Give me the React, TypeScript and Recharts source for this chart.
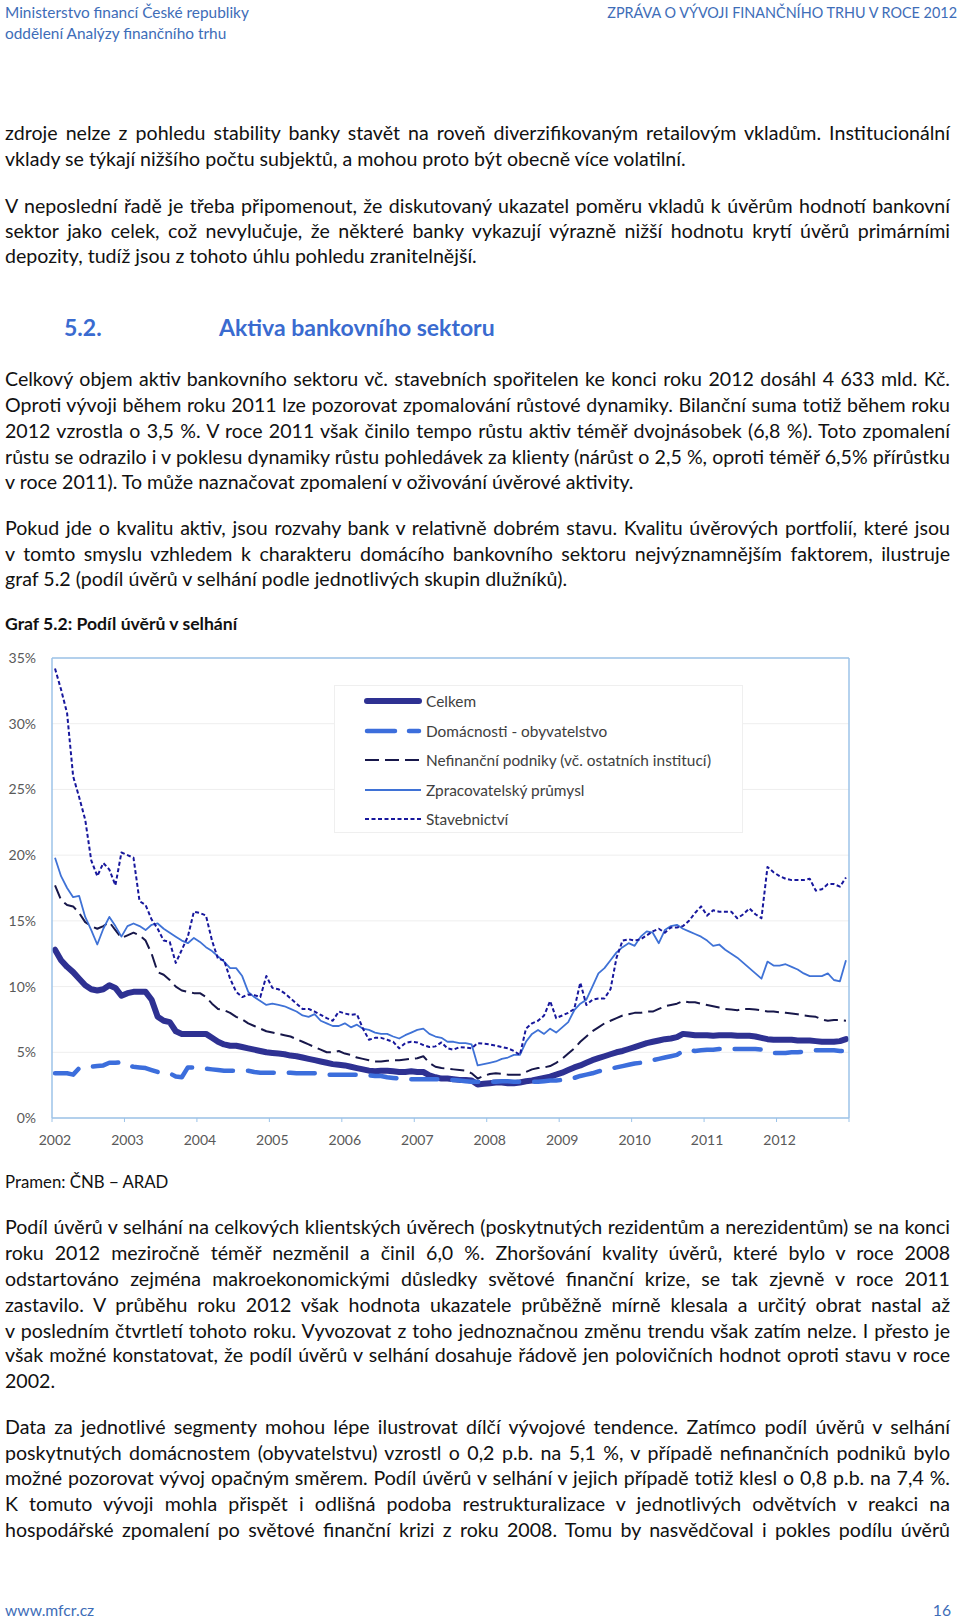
import React, { useLayoutEffect, useRef, useState } from "react";
import { LineChart, Line, XAxis, YAxis, CartesianGrid, ReferenceLine, Legend } from "recharts";

const FONT = "Lato, 'Noto Sans', sans-serif";
const AXIS = "#9CC3E8";
const TICK_TEXT = "#595959";

// roky na ose x (měsíční data 2002-01 .. 2012-12)
const years = ["2002", "2003", "2004", "2005", "2006", "2007", "2008", "2009", "2010", "2011", "2012"];
const yTicks = [0, 5, 10, 15, 20, 25, 30, 35];

const celkem = [
  12.8, 12.0, 11.5, 11.1, 10.6, 10.1, 9.8, 9.7, 9.8, 10.1, 9.9, 9.3,
  9.5, 9.6, 9.6, 9.6, 9.0, 7.7, 7.4, 7.3, 6.6, 6.4, 6.4, 6.4,
  6.4, 6.4, 6.1, 5.8, 5.6, 5.5, 5.5, 5.4, 5.3, 5.2, 5.1, 5.0,
  4.95, 4.9, 4.85, 4.75, 4.7, 4.6, 4.5, 4.4, 4.3, 4.2, 4.1, 4.05,
  4.0, 3.9, 3.8, 3.7, 3.6, 3.55, 3.6, 3.6, 3.55, 3.5, 3.5, 3.55,
  3.5, 3.5, 3.25, 3.1, 3.0, 3.0, 2.95, 2.9, 2.9, 2.85, 2.55, 2.6,
  2.65, 2.7, 2.7, 2.65, 2.65, 2.7, 2.8, 2.85, 2.95, 3.05, 3.15, 3.3,
  3.45, 3.65, 3.85, 4.0, 4.2, 4.4, 4.55, 4.7, 4.85, 5.0, 5.1, 5.25,
  5.4, 5.55, 5.7, 5.8, 5.9, 6.0, 6.05, 6.15, 6.4, 6.35, 6.3, 6.3,
  6.3, 6.25, 6.3, 6.3, 6.3, 6.25, 6.25, 6.25, 6.2, 6.1, 6.0, 5.95,
  5.95, 5.95, 5.95, 5.9, 5.9, 5.9, 5.85, 5.8, 5.8, 5.8, 5.85, 6.0,
];

const domacnosti = [
  3.4, 3.4, 3.4, 3.3, 3.8, 3.85, 3.9, 3.95, 4.0, 4.2, 4.2, 4.25,
  4.0, 3.9, 3.85, 3.8, 3.65, 3.5, 3.45, 3.4, 3.15, 3.1, 3.85, 3.85,
  3.8, 3.75, 3.7, 3.65, 3.6, 3.6, 3.6, 3.6, 3.6, 3.5, 3.45, 3.45,
  3.45, 3.45, 3.45, 3.45, 3.4, 3.4, 3.4, 3.4, 3.35, 3.3, 3.3, 3.3,
  3.3, 3.3, 3.3, 3.3, 3.25, 3.2, 3.2, 3.1, 3.05, 3.0, 2.95, 2.95,
  2.95, 2.95, 2.95, 2.95, 2.95, 2.9, 2.9, 2.85, 2.8, 2.75, 2.75, 2.75,
  2.75, 2.75, 2.8, 2.8, 2.75, 2.75, 2.75, 2.75, 2.75, 2.8, 2.85, 2.85,
  2.9, 2.95, 3.05, 3.2, 3.3, 3.4, 3.55, 3.65, 3.75, 3.85, 3.95, 4.05,
  4.15, 4.2, 4.3, 4.4, 4.5, 4.6, 4.7, 4.8, 5.1, 5.2, 5.1, 5.15,
  5.2, 5.2, 5.25, 5.25, 5.25, 5.25, 5.25, 5.25, 5.25, 5.2, 5.15, 4.95,
  4.95, 4.95, 5.0, 5.0, 5.05, 5.1, 5.15, 5.15, 5.15, 5.15, 5.1, 5.1,
];

const nefinancni = [
  17.7, 16.6, 16.2, 16.1, 15.6, 14.9, 14.6, 14.4, 14.6, 14.9, 14.3, 13.7,
  13.9, 14.1, 13.9, 13.5, 12.5, 11.1, 10.9, 10.5, 10.0, 9.7, 9.6, 9.5,
  9.5, 9.2, 8.7, 8.3, 8.2, 8.0, 7.7, 7.5, 7.2, 7.0, 6.8, 6.6,
  6.5, 6.4, 6.3, 6.2, 6.0, 5.8, 5.6, 5.4, 5.2, 5.0, 5.0, 5.1,
  4.9, 4.8, 4.6, 4.5, 4.4, 4.3, 4.3, 4.35, 4.4, 4.4, 4.45, 4.5,
  4.55, 4.7, 4.2, 3.9, 3.8, 3.75, 3.7, 3.65, 3.6, 3.4, 3.0, 3.2,
  3.35, 3.4, 3.35, 3.3, 3.3, 3.3, 3.5, 3.7, 3.8, 3.85, 3.95, 4.2,
  4.5, 4.9, 5.3, 5.8, 6.2, 6.6, 6.9, 7.2, 7.4, 7.6, 7.8, 7.9,
  8.0, 8.0, 8.1, 8.1, 8.3, 8.5, 8.6, 8.7, 8.9, 8.8, 8.8, 8.7,
  8.6, 8.5, 8.4, 8.3, 8.25, 8.2, 8.3, 8.3, 8.25, 8.2, 8.1, 8.1,
  8.05, 8.0, 7.95, 7.9, 7.8, 7.75, 7.7, 7.5, 7.4, 7.45, 7.45, 7.4,
];

const zpracovatelsky = [
  19.8, 18.4, 17.5, 16.8, 16.9, 15.3, 14.3, 13.2, 14.4, 15.3, 14.6, 13.8,
  14.6, 14.8, 14.6, 14.3, 14.7, 14.8, 14.4, 14.1, 13.8, 13.5, 13.3, 13.7,
  13.4, 13.0, 12.7, 12.3, 11.9, 11.4, 11.4, 10.8, 9.6, 9.2, 8.9, 8.6,
  8.7, 8.6, 8.5, 8.3, 8.1, 7.8, 7.7, 7.9, 7.4, 7.2, 7.0, 7.0,
  7.2, 6.9, 7.1, 6.8, 6.7, 6.5, 6.4, 6.4, 6.2, 6.05, 6.3, 6.5,
  6.7, 6.8, 6.4, 6.2, 6.1, 5.8, 5.8, 5.7, 5.7, 5.6, 4.0, 4.1,
  4.2, 4.3, 4.5, 4.6, 4.8, 4.8, 5.8, 6.4, 6.7, 6.4, 6.8, 6.5,
  6.9, 7.3, 8.2, 8.7, 9.0, 10.0, 11.0, 11.4, 12.0, 12.6, 13.0, 13.3,
  13.1, 13.8, 14.2, 14.1, 13.3, 14.3, 14.6, 14.7, 14.4, 14.2, 14.0, 13.8,
  13.5, 13.1, 13.2, 12.8, 12.5, 12.2, 11.8, 11.4, 11.0, 10.6, 11.9, 11.6,
  11.6, 11.7, 11.5, 11.3, 11.0, 10.8, 10.8, 10.8, 11.0, 10.5, 10.4, 12.0,
];

const stavebnictvi = [
  34.2, 32.6, 30.8, 26.0, 24.4, 22.7, 19.6, 18.4, 19.4, 18.9, 17.7, 20.2,
  20.0, 19.8, 16.5, 16.2, 15.1, 14.4, 13.5, 13.4, 11.8, 12.8, 13.8, 15.7,
  15.6, 15.4, 13.5, 12.1, 12.0, 10.6, 9.6, 9.2, 9.4, 9.35, 9.2, 10.8,
  9.9, 9.8, 9.5, 9.1, 8.7, 8.3, 8.3, 8.1, 7.85, 7.6, 7.4, 8.1,
  7.95, 7.85, 7.9, 6.8, 5.95, 6.1, 6.1, 5.95, 5.8, 5.3, 5.7, 5.8,
  5.75, 5.55, 5.4, 5.45, 5.75, 5.3, 5.2, 5.4, 5.35, 5.3, 5.7, 5.65,
  5.6, 5.5, 5.4, 5.3, 5.1, 4.8, 6.8, 7.2, 7.4, 7.8, 8.9, 7.6,
  7.8, 8.0, 8.3, 10.3, 8.6, 9.0, 9.1, 9.1, 9.8, 12.2, 13.5, 13.6,
  13.5, 13.6, 13.9, 14.2, 14.4, 14.1, 14.5, 14.5, 14.6, 15.0, 15.6, 16.1,
  15.4, 15.8, 15.7, 15.7, 15.7, 15.2, 15.5, 15.95, 15.5, 15.2, 19.1, 18.7,
  18.4, 18.2, 18.1, 18.1, 18.1, 18.2, 17.3, 17.4, 17.8, 17.8, 17.6, 18.3,
];

const series = [
  { key: "celkem", name: "Celkem", color: "#2E3192", width: 6, dash: undefined as string | undefined, cap: "round" },
  { key: "domacnosti", name: "Domácnosti - obyvatelstvo", color: "#3C6EDC", width: 4.5, dash: "26 15", cap: "round" },
  { key: "nefinancni", name: "Nefinanční podniky (vč. ostatních institucí)", color: "#17174A", width: 2, dash: "14 6", cap: "butt" },
  { key: "zpracovatelsky", name: "Zpracovatelský průmysl", color: "#3F72D6", width: 1.8, dash: undefined, cap: "butt" },
  { key: "stavebnictvi", name: "Stavebnictví", color: "#17179C", width: 2, dash: "4 2.5", cap: "butt" },
];

// t = měsíc od ledna 2002 (střed měsíce)
const data = celkem.map((v, i) => ({
  t: i + 0.5,
  celkem: v,
  domacnosti: domacnosti[i],
  nefinancni: nefinancni[i],
  zpracovatelsky: zpracovatelsky[i],
  stavebnictvi: stavebnictvi[i],
}));

const xTicks = years.map((_, k) => k * 12).concat(132);

function YearTick({ x, y, payload }: any) {
  const label = years[Math.round(payload.value / 12)];
  if (!label) return null;
  return (
    <text x={x + 3} y={y} dy="0.35em" textAnchor="middle" fill={TICK_TEXT} fontSize={14} fontFamily={FONT}>
      {label}
    </text>
  );
}

function RightTick({ x, y, payload }: any) {
  return (
    <g>
      <line x1={x - 20} x2={x - 16} y1={y} y2={y} stroke={AXIS} strokeWidth={1} />
      <text x={x} y={y} dy="0.35em" textAnchor="start" fill={TICK_TEXT} fontSize={14} fontFamily={FONT}>
        {payload.value}%
      </text>
    </g>
  );
}

function LegendBox() {
  return (
    <div
      style={{
        width: 409,
        height: 148,
        border: "1px solid #EFEFEF",
        boxSizing: "border-box",
        position: "relative",
        background: "#fff",
        fontFamily: FONT,
        fontSize: 15.4,
        color: "#404040",
      }}
    >
      {series.map((s, k) => (
        <div
          key={s.key}
          style={{ position: "absolute", left: 28, top: 4 + k * 29.5, height: 22, display: "flex", alignItems: "center", whiteSpace: "nowrap" }}
        >
          <svg width={60} height={12}>
            <line
              x1={s.cap === "round" ? 4 : 2}
              x2={s.cap === "round" ? 56 : 58}
              y1={6}
              y2={6}
              stroke={s.color}
              strokeWidth={s.width}
              strokeDasharray={s.key === "domacnosti" ? "28 14" : s.dash}
              strokeLinecap={s.cap as any}
            />
          </svg>
          <span style={{ marginLeft: 3 }}>{s.name}</span>
        </div>
      ))}
    </div>
  );
}

function Chart() {
  return (
    <LineChart width={960} height={520} data={data} margin={{ top: 18, right: 0, bottom: 0, left: 0 }}>
      <CartesianGrid yAxisId="left" vertical={false} stroke="#EEEEEE" />
      <XAxis
        type="number"
        dataKey="t"
        domain={[0, 132]}
        ticks={xTicks}
        interval={0}
        height={42}
        axisLine={{ stroke: AXIS, strokeWidth: 1.5 }}
        tickLine={{ stroke: AXIS }}
        tickSize={4}
        tickMargin={18}
        tick={<YearTick />}
      />
      <YAxis
        yAxisId="left"
        domain={[0, 35]}
        ticks={yTicks}
        width={52}
        axisLine={{ stroke: AXIS, strokeWidth: 1.5 }}
        tickLine={false}
        tickSize={0}
        tickMargin={16}
        tickFormatter={(v) => `${v}%`}
        tick={{ fill: TICK_TEXT, fontSize: 14, fontFamily: FONT }}
      />
      <YAxis
        yAxisId="right"
        orientation="right"
        domain={[0, 35]}
        ticks={yTicks}
        width={111}
        axisLine={{ stroke: AXIS, strokeWidth: 1.5 }}
        tickLine={false}
        tickSize={0}
        tickMargin={16}
        tick={<RightTick />}
      />
      <ReferenceLine yAxisId="left" y={35} stroke={AXIS} strokeWidth={1.5} />
      {series.map((s) => (
        <Line
          key={s.key}
          yAxisId="left"
          type="linear"
          dataKey={s.key}
          name={s.name}
          stroke={s.color}
          strokeWidth={s.width}
          strokeDasharray={s.dash}
          strokeLinecap={s.cap as any}
          strokeLinejoin="round"
          dot={false}
          activeDot={false}
          isAnimationActive={false}
        />
      ))}
      <Legend
        layout="vertical"
        align="center"
        verticalAlign="middle"
        wrapperStyle={{ left: 334, top: 45, width: 409, height: 148 }}
        content={() => <LegendBox />}
      />
    </LineChart>
  );
}

// řádky textu stránky: [text, střed řádku y, zarovnat do bloku]
const topLines: [string, number, boolean][] = [
  ["zdroje nelze z pohledu stability banky stavět na roveň diverzifikovaným retailovým vkladům. Institucionální", 133.4, true],
  ["vklady se týkají nižšího počtu subjektů, a mohou proto být obecně více volatilní.", 159.2, false],
  ["V neposlední řadě je třeba připomenout, že diskutovaný ukazatel poměru vkladů k úvěrům hodnotí bankovní", 205.7, true],
  ["sektor jako celek, což nevylučuje, že některé banky vykazují výrazně nižší hodnotu krytí úvěrů primárními", 230.5, true],
  ["depozity, tudíž jsou z tohoto úhlu pohledu zranitelnější.", 256.4, false],
  ["Celkový objem aktiv bankovního sektoru vč. stavebních spořitelen ke konci roku 2012 dosáhl 4 633 mld. Kč.", 379.4, true],
  ["Oproti vývoji během roku 2011 lze pozorovat zpomalování růstové dynamiky. Bilanční suma totiž během roku", 405.2, true],
  ["2012 vzrostla o 3,5 %. V roce 2011 však činilo tempo růstu aktiv téměř dvojnásobek (6,8 %). Toto zpomalení", 431.1, true],
  ["růstu se odrazilo i v poklesu dynamiky růstu pohledávek za klienty (nárůst o 2,5 %, oproti téměř 6,5% přírůstku", 456.9, true],
  ["v roce 2011). To může naznačovat zpomalení v oživování úvěrové aktivity.", 481.7, false],
  ["Pokud jde o kvalitu aktiv, jsou rozvahy bank v relativně dobrém stavu. Kvalitu úvěrových portfolií, které jsou", 528.3, true],
  ["v tomto smyslu vzhledem k charakteru domácího bankovního sektoru nejvýznamnějším faktorem, ilustruje", 554.1, true],
  ["graf 5.2 (podíl úvěrů v selhání podle jednotlivých skupin dlužníků).", 578.9, false],
  ["Podíl úvěrů v selhání na celkových klientských úvěrech (poskytnutých rezidentům a nerezidentům) se na konci", 1227.1, true],
  ["roku 2012 meziročně téměř nezměnil a činil 6,0 %. Zhoršování kvality úvěrů, které bylo v roce 2008", 1253.0, true],
  ["odstartováno zejména makroekonomickými důsledky světové finanční krize, se tak zjevně v roce 2011", 1278.8, true],
  ["zastavilo. V průběhu roku 2012 však hodnota ukazatele průběžně mírně klesala a určitý obrat nastal až", 1304.6, true],
  ["v posledním čtvrtletí tohoto roku. Vyvozovat z toho jednoznačnou změnu trendu však zatím nelze. I přesto je", 1330.5, true],
  ["však možné konstatovat, že podíl úvěrů v selhání dosahuje řádově jen polovičních hodnot oproti stavu v roce", 1355.3, true],
  ["2002.", 1381.1, false],
  ["Data za jednotlivé segmenty mohou lépe ilustrovat dílčí vývojové tendence. Zatímco podíl úvěrů v selhání", 1426.6, true],
  ["poskytnutých domácnostem (obyvatelstvu) vzrostl o 0,2 p.b. na 5,1 %, v případě nefinančních podniků bylo", 1452.5, true],
  ["možné pozorovat vývoj opačným směrem. Podíl úvěrů v selhání v jejich případě totiž klesl o 0,8 p.b. na 7,4 %.", 1478.3, true],
  ["K tomuto vývoji mohla přispět i odlišná podoba restrukturalizace v jednotlivých odvětvích v reakci na", 1504.2, true],
  ["hospodářské zpomalení po světové finanční krizi z roku 2008. Tomu by nasvědčoval i pokles podílu úvěrů", 1530.0, true],
];

const BLUE = "#3E6DB8";
const TEXT_W = 945;
const BODY_SIZE = 19.6;

// řádek textu; pokud je přirozeně širší než sloupec, zúží se, jinak se zarovná do bloku
function TextLine({ text, y, justify }: { text: string; y: number; justify: boolean }) {
  const ref = useRef<HTMLSpanElement>(null);
  const [w, setW] = useState(0);
  useLayoutEffect(() => {
    if (ref.current) setW(ref.current.getBoundingClientRect().width);
  }, []);
  const over = w > TEXT_W;
  const base: React.CSSProperties = {
    position: "absolute",
    left: 5,
    top: y - 13,
    height: 26,
    lineHeight: "26px",
    fontSize: BODY_SIZE,
    whiteSpace: "nowrap",
    color: "#111",
  };
  return (
    <>
      <span ref={ref} style={{ ...base, visibility: "hidden" }}>
        {text}
      </span>
      {justify && !over ? (
        <div style={{ ...base, width: TEXT_W, textAlign: "justify", textAlignLast: "justify" } as React.CSSProperties}>{text}</div>
      ) : (
        <div
          style={{
            ...base,
            transformOrigin: "0 50%",
            transform: over ? `scaleX(${TEXT_W / w})` : undefined,
          }}
        >
          {text}
        </div>
      )}
    </>
  );
}

export default function App() {
  return (
    <div style={{ position: "absolute", left: 0, top: 0, width: 960, height: 1621, background: "#fff", fontFamily: FONT, overflow: "hidden" }}>
      <div style={{ position: "absolute", left: 5, top: 2, fontSize: 15.4, lineHeight: "21px", color: BLUE }}>
        <div>Ministerstvo financí České republiky</div>
        <div>oddělení Analýzy finančního trhu</div>
      </div>
      <div style={{ position: "absolute", right: 3, top: 2, fontSize: 14.4, lineHeight: "21px", color: BLUE }}>
        ZPRÁVA O VÝVOJI FINANČNÍHO TRHU V ROCE 2012
      </div>

      {topLines.map(([t, y, j], k) => (
        <TextLine key={k} text={t} y={y} justify={j} />
      ))}

      <div style={{ position: "absolute", left: 64, top: 326.7 - 15, lineHeight: "30px", fontSize: 23, fontWeight: 700, color: "#3A6BD0" }}>
        5.2.
      </div>
      <div style={{ position: "absolute", left: 219, top: 326.7 - 15, lineHeight: "30px", fontSize: 23, fontWeight: 700, color: "#3A6BD0" }}>
        Aktiva bankovního sektoru
      </div>

      <div style={{ position: "absolute", left: 5, top: 624.4 - 13, lineHeight: "26px", fontSize: 17.6, fontWeight: 700, color: "#111" }}>
        Graf 5.2: Podíl úvěrů v selhání
      </div>

      <div style={{ position: "absolute", left: 0, top: 640, width: 960, height: 520 }}>
        <Chart />
      </div>

      <div style={{ position: "absolute", left: 5, top: 1181.6 - 13, lineHeight: "26px", fontSize: 16.8, color: "#111" }}>
        Pramen: ČNB − ARAD
      </div>

      <div style={{ position: "absolute", left: 5, top: 1609.6 - 11, fontSize: 15.7, lineHeight: "22px", color: BLUE }}>
        www.mfcr.cz
      </div>
      <div style={{ position: "absolute", right: 9, top: 1609.6 - 11, fontSize: 15.7, lineHeight: "22px", color: BLUE }}>
        16
      </div>
    </div>
  );
}
